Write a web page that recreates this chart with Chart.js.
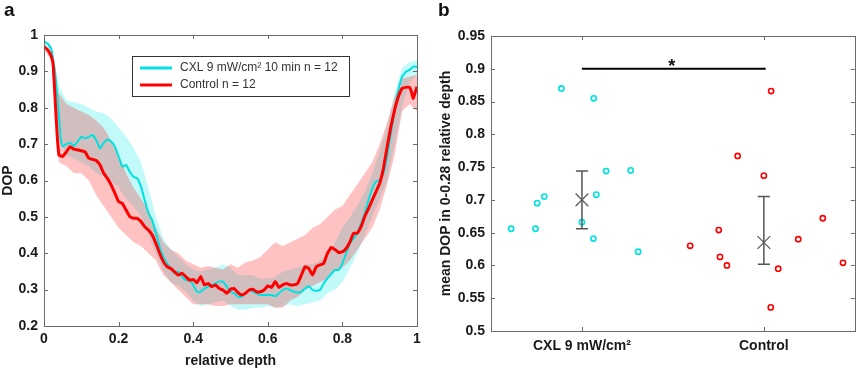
<!DOCTYPE html>
<html>
<head>
<meta charset="utf-8">
<script src="https://cdn.jsdelivr.net/npm/chart.js@4.4.1/dist/chart.umd.min.js"></script>
<style>
body { margin: 0; background: #fff; }
#wrap { position: relative; width: 865px; height: 371px; }
.panel { position: absolute; top: 0; height: 371px; }
.tag { position: absolute; top: -1px; font: bold 19px 'Liberation Sans', Arial, sans-serif; color: #111; }
</style>
</head>
<body>
<div id="wrap">
    <div class="panel" style="left:0;width:430px"><canvas id="GraficoDop" width="430" height="371"></canvas></div>
    <div class="panel" style="left:430px;width:435px"><canvas id="GraficoMedia" width="435" height="371"></canvas></div>
    <div class="tag" style="left:4px">a</div>
    <div class="tag" style="left:438px">b</div>
</div>
<script>
// painel a - DOP ao longo da profundidade
var cxlDepth = [0, 0.01, 0.02, 0.03, 0.04, 0.045, 0.05, 0.06, 0.07, 0.08, 0.09, 0.10, 0.11, 0.12, 0.13, 0.14, 0.15, 0.16, 0.17, 0.18, 0.19,
    0.20, 0.21, 0.22, 0.23, 0.24, 0.25, 0.26, 0.27, 0.28, 0.29, 0.30, 0.31, 0.32, 0.33, 0.34, 0.35, 0.36, 0.37, 0.38, 0.39,
    0.40, 0.41, 0.42, 0.43, 0.44, 0.45, 0.46, 0.47, 0.48, 0.49, 0.50, 0.51, 0.52, 0.53, 0.54, 0.55, 0.56, 0.57, 0.58, 0.59,
    0.60, 0.61, 0.62, 0.63, 0.64, 0.65, 0.66, 0.67, 0.68, 0.69, 0.70, 0.71, 0.72, 0.73, 0.74, 0.75, 0.76, 0.77, 0.78, 0.79,
    0.80, 0.81, 0.82, 0.83, 0.84, 0.85, 0.86, 0.87, 0.88, 0.89, 0.90, 0.91, 0.92, 0.93, 0.94, 0.95, 0.96, 0.97, 0.98, 0.99, 1.00];
var cxlMean = [0.982, 0.977, 0.960, 0.895, 0.780, 0.710, 0.693, 0.700, 0.704, 0.695, 0.707, 0.720, 0.716, 0.720, 0.725, 0.711, 0.688, 0.704, 0.713, 0.707, 0.693,
    0.666, 0.638, 0.643, 0.624, 0.610, 0.606, 0.583, 0.546, 0.510, 0.491, 0.455, 0.418, 0.390, 0.372, 0.358, 0.345, 0.350, 0.336, 0.326, 0.326,
    0.313, 0.294, 0.294, 0.303, 0.308, 0.313, 0.317, 0.322, 0.322, 0.308, 0.294, 0.290, 0.280, 0.280, 0.290, 0.299, 0.294, 0.290, 0.285, 0.285,
    0.285, 0.285, 0.282, 0.290, 0.299, 0.303, 0.299, 0.294, 0.292, 0.294, 0.303, 0.310, 0.299, 0.297, 0.299, 0.317, 0.331, 0.343, 0.354, 0.354,
    0.372, 0.400, 0.427, 0.441, 0.455, 0.482, 0.510, 0.546, 0.578, 0.597, 0.601, 0.620, 0.666, 0.730, 0.794, 0.849, 0.885, 0.899, 0.904, 0.913, 0.913];

var ctrlDepth = [0, 0.01, 0.02, 0.025, 0.03, 0.035, 0.04, 0.05, 0.06, 0.07, 0.08, 0.09, 0.10, 0.11, 0.12, 0.13, 0.14, 0.15, 0.16, 0.17, 0.18, 0.19,
    0.20, 0.21, 0.22, 0.23, 0.24, 0.25, 0.26, 0.27, 0.28, 0.29, 0.30, 0.31, 0.32, 0.33, 0.34, 0.35, 0.36, 0.37, 0.38, 0.39,
    0.40, 0.41, 0.42, 0.43, 0.44, 0.45, 0.46, 0.47, 0.48, 0.49, 0.50, 0.51, 0.52, 0.53, 0.54, 0.55, 0.56, 0.57, 0.58, 0.59,
    0.60, 0.61, 0.62, 0.63, 0.64, 0.65, 0.66, 0.67, 0.68, 0.69, 0.70, 0.71, 0.72, 0.73, 0.74, 0.75, 0.76, 0.77, 0.78, 0.79,
    0.80, 0.81, 0.82, 0.83, 0.84, 0.85, 0.86, 0.87, 0.88, 0.89, 0.90, 0.91, 0.92, 0.93, 0.94, 0.95, 0.96, 0.97, 0.98, 0.985, 0.99, 1.00];
var ctrlMean = [0.968, 0.959, 0.940, 0.913, 0.820, 0.730, 0.670, 0.666, 0.679, 0.693, 0.686, 0.684, 0.682, 0.679, 0.661, 0.658, 0.655, 0.643, 0.620, 0.606, 0.588, 0.565,
    0.542, 0.537, 0.519, 0.501, 0.496, 0.496, 0.487, 0.473, 0.464, 0.450, 0.427, 0.400, 0.377, 0.363, 0.358, 0.349, 0.340, 0.345, 0.336, 0.326,
    0.328, 0.319, 0.336, 0.313, 0.317, 0.308, 0.313, 0.303, 0.299, 0.290, 0.301, 0.303, 0.292, 0.285, 0.290, 0.299, 0.301, 0.294, 0.294, 0.299,
    0.310, 0.306, 0.322, 0.306, 0.313, 0.317, 0.313, 0.313, 0.317, 0.340, 0.363, 0.358, 0.340, 0.363, 0.368, 0.372, 0.400, 0.416, 0.410, 0.402,
    0.404, 0.413, 0.431, 0.455, 0.455, 0.473, 0.501, 0.523, 0.546, 0.569, 0.592, 0.633, 0.693, 0.748, 0.794, 0.830, 0.853, 0.856, 0.856, 0.844, 0.826, 0.858];

// faixas (desvio) em passos de 0.02
var bandDepth = [0, 0.02, 0.04, 0.06, 0.08, 0.10, 0.12, 0.14, 0.16, 0.18, 0.20, 0.22, 0.24, 0.26, 0.28, 0.30, 0.32, 0.34, 0.36, 0.38, 0.40,
    0.42, 0.44, 0.46, 0.48, 0.50, 0.52, 0.54, 0.56, 0.58, 0.60, 0.62, 0.64, 0.66, 0.68, 0.70, 0.72, 0.74, 0.76, 0.78, 0.80,
    0.82, 0.84, 0.86, 0.88, 0.90, 0.92, 0.94, 0.96, 0.98, 1.00];
var cxlUpper = [0.990, 0.970, 0.860, 0.820, 0.815, 0.810, 0.800, 0.790, 0.785, 0.770, 0.745, 0.720, 0.690, 0.650, 0.580, 0.500, 0.440, 0.410, 0.390, 0.370, 0.355,
    0.350, 0.355, 0.360, 0.370, 0.360, 0.340, 0.340, 0.340, 0.330, 0.330, 0.335, 0.350, 0.355, 0.360, 0.370, 0.370, 0.380, 0.400, 0.430, 0.470,
    0.500, 0.530, 0.570, 0.620, 0.680, 0.750, 0.840, 0.910, 0.925, 0.930];
var cxlLower = [0.975, 0.950, 0.720, 0.670, 0.660, 0.650, 0.640, 0.620, 0.610, 0.600, 0.580, 0.550, 0.530, 0.500, 0.450, 0.400, 0.350, 0.320, 0.310, 0.295, 0.270,
    0.255, 0.260, 0.265, 0.270, 0.255, 0.245, 0.245, 0.250, 0.250, 0.255, 0.250, 0.255, 0.260, 0.255, 0.260, 0.265, 0.270, 0.290, 0.300, 0.320,
    0.360, 0.400, 0.450, 0.500, 0.550, 0.600, 0.700, 0.800, 0.870, 0.890];
var ctrlUpper = [0.975, 0.950, 0.840, 0.810, 0.800, 0.790, 0.780, 0.765, 0.745, 0.710, 0.670, 0.620, 0.580, 0.550, 0.520, 0.470, 0.430, 0.410, 0.400, 0.380, 0.370,
    0.360, 0.365, 0.360, 0.355, 0.370, 0.360, 0.375, 0.380, 0.390, 0.410, 0.430, 0.420, 0.430, 0.440, 0.450, 0.470, 0.480, 0.500, 0.520, 0.530,
    0.560, 0.590, 0.620, 0.650, 0.700, 0.760, 0.830, 0.880, 0.885, 0.890];
var ctrlLower = [0.960, 0.930, 0.650, 0.640, 0.620, 0.620, 0.600, 0.560, 0.530, 0.500, 0.470, 0.450, 0.430, 0.420, 0.400, 0.380, 0.340, 0.320, 0.300, 0.280, 0.260,
    0.260, 0.260, 0.255, 0.255, 0.260, 0.260, 0.260, 0.260, 0.260, 0.260, 0.250, 0.250, 0.270, 0.280, 0.300, 0.310, 0.320, 0.330, 0.350, 0.360,
    0.380, 0.410, 0.440, 0.470, 0.520, 0.590, 0.670, 0.790, 0.810, 0.790];

// painel b - media de DOP em 0-0.28
var grupos = ['CXL 9 mW/cm\u00b2', 'Control'];
var cxlX = [0.611, 0.745, 0.754, 0.793, 0.887, 1.065, 1.000, 1.063, 1.079, 1.133, 1.268, 1.309];
var cxlY = [0.656, 0.656, 0.695, 0.705, 0.870, 0.855, 0.666, 0.641, 0.708, 0.744, 0.745, 0.621];
var ctrlX = [1.595, 1.752, 1.759, 1.797, 1.856, 2.000, 2.040, 2.079, 2.038, 2.189, 2.324, 2.435];
var ctrlY = [0.630, 0.654, 0.613, 0.600, 0.767, 0.737, 0.866, 0.595, 0.536, 0.640, 0.672, 0.604];
var mediaGrupo = [0.700, 0.635];
var erroInf = [0.656, 0.602];
var erroSup = [0.744, 0.705];
var sigLinha = [1.0, 2.01, 0.9];

var corCxl = 'rgb(0,225,225)';
var corCtrl = 'rgb(255,0,0)';
var corTexto = '#1a1a1a';
var fonteEixo = { family: "'Liberation Sans', Arial, sans-serif", size: 14, weight: 'bold' };

function pontos(xs, ys) {
    var lista = [];
    for (var i = 0; i < xs.length; i++) lista.push({ x: xs[i], y: ys[i] });
    return lista;
}

function fmt(v) {
    return String(Number(v.toFixed(2)));
}

var caixaPlugin = {
    id: 'caixa',
    afterDraw: function (chart) {
        var ctx = chart.ctx, a = chart.chartArea, sx = chart.scales.x, sy = chart.scales.y;
        ctx.save();
        ctx.strokeStyle = '#6a6a6a';
        ctx.lineWidth = 1;
        ctx.strokeRect(Math.round(a.left) + 0.5, Math.round(a.top) + 0.5, Math.round(a.right - a.left), Math.round(a.bottom - a.top));
        ctx.beginPath();
        sx.ticks.forEach(function (t) {
            var px = Math.round(sx.getPixelForValue(t.value)) + 0.5;
            ctx.moveTo(px, a.bottom); ctx.lineTo(px, a.bottom - 4);
            ctx.moveTo(px, a.top); ctx.lineTo(px, a.top + 4);
        });
        sy.ticks.forEach(function (t) {
            var py = Math.round(sy.getPixelForValue(t.value)) + 0.5;
            ctx.moveTo(a.left, py); ctx.lineTo(a.left + 4, py);
            ctx.moveTo(a.right, py); ctx.lineTo(a.right - 4, py);
        });
        ctx.stroke();
        ctx.restore();
    }
};

var legendaPlugin = {
    id: 'legenda',
    afterDraw: function (chart) {
        var ctx = chart.ctx, a = chart.chartArea;
        var x0 = a.left + 88, y0 = a.top + 21, w = 217, h = 40;
        ctx.save();
        ctx.fillStyle = '#fff';
        ctx.fillRect(x0, y0, w, h);
        ctx.strokeStyle = '#333';
        ctx.lineWidth = 1;
        ctx.strokeRect(x0 + 0.5, y0 + 0.5, w, h);
        var itens = chart.data.datasets.filter(function (d) { return d.legenda; });
        itens.sort(function (p, q) { return p.legenda - q.legenda; });
        itens.forEach(function (d, i) {
            var yy = y0 + 12 + i * 17;
            ctx.strokeStyle = d.borderColor;
            ctx.lineWidth = 3;
            ctx.beginPath();
            ctx.moveTo(x0 + 8, yy); ctx.lineTo(x0 + 40, yy);
            ctx.stroke();
            ctx.fillStyle = '#333';
            ctx.font = "12px 'Liberation Sans', Arial, sans-serif";
            ctx.textBaseline = 'middle';
            ctx.fillText(d.label, x0 + 48, yy);
        });
        ctx.restore();
    }
};

new Chart(document.getElementById('GraficoDop'), {
    type: 'line',
    data: {
        datasets: [{
            label: 'Control n = 12',
            legenda: 2,
            data: pontos(ctrlDepth, ctrlMean),
            borderColor: corCtrl,
            borderWidth: 3,
            pointRadius: 0,
            fill: false,
            tension: 0.1
        }, {
            label: 'CXL 9 mW/cm\u00b2 10 min n = 12',
            legenda: 1,
            data: pontos(cxlDepth, cxlMean),
            borderColor: corCxl,
            borderWidth: 2,
            pointRadius: 0,
            fill: false,
            tension: 0.1
        }, {
            label: 'ctrlUpper',
            data: pontos(bandDepth, ctrlUpper),
            borderWidth: 0,
            borderColor: 'rgba(0,0,0,0)',
            pointRadius: 0,
            backgroundColor: 'rgba(255,0,0,0.24)',
            fill: '+1'
        }, {
            label: 'ctrlLower',
            data: pontos(bandDepth, ctrlLower),
            borderWidth: 0,
            borderColor: 'rgba(0,0,0,0)',
            pointRadius: 0,
            fill: false
        }, {
            label: 'cxlUpper',
            data: pontos(bandDepth, cxlUpper),
            borderWidth: 0,
            borderColor: 'rgba(0,0,0,0)',
            pointRadius: 0,
            backgroundColor: 'rgba(0,235,235,0.24)',
            fill: '+1'
        }, {
            label: 'cxlLower',
            data: pontos(bandDepth, cxlLower),
            borderWidth: 0,
            borderColor: 'rgba(0,0,0,0)',
            pointRadius: 0,
            fill: false
        }]
    },
    options: {
        responsive: false,
        animation: false,
        layout: { padding: { top: 35, right: 13, left: 0, bottom: 0 } },
        plugins: {
            legend: { display: false },
            tooltip: { enabled: false },
            filler: { drawTime: 'beforeDatasetsDraw' }
        },
        scales: {
            x: {
                type: 'linear', min: 0, max: 1,
                grid: { display: false, drawTicks: false },
                border: { display: false },
                ticks: { stepSize: 0.2, padding: 5, color: corTexto, font: fonteEixo, callback: fmt, maxRotation: 0 },
                title: { display: true, text: 'relative depth', color: corTexto, font: fonteEixo, padding: { top: 0, bottom: 1 } },
                afterFit: function (s) { s.height = 45; }
            },
            y: {
                type: 'linear', min: 0.2, max: 1,
                grid: { display: false, drawTicks: false },
                border: { display: false },
                ticks: { stepSize: 0.1, padding: 6, color: corTexto, font: fonteEixo, callback: fmt },
                title: { display: true, text: 'DOP', color: corTexto, font: fonteEixo, padding: 0 },
                afterFit: function (s) { s.width = 44; }
            }
        }
    },
    plugins: [caixaPlugin, legendaPlugin]
});

var errosPlugin = {
    id: 'erros',
    afterDatasetsDraw: function (chart) {
        var ctx = chart.ctx, sx = chart.scales.x, sy = chart.scales.y;
        ctx.save();
        ctx.strokeStyle = '#555';
        ctx.lineWidth = 1.5;
        for (var i = 0; i < mediaGrupo.length; i++) {
            var px = sx.getPixelForValue(i + 1);
            var cap = sx.getPixelForValue(i + 1.033) - px;
            var yi = sy.getPixelForValue(erroInf[i]);
            var ys = sy.getPixelForValue(erroSup[i]);
            ctx.beginPath();
            ctx.moveTo(px, yi); ctx.lineTo(px, ys);
            ctx.moveTo(px - cap, yi); ctx.lineTo(px + cap, yi);
            ctx.moveTo(px - cap, ys); ctx.lineTo(px + cap, ys);
            ctx.stroke();
        }
        // barra de significancia
        var x1 = sx.getPixelForValue(sigLinha[0]);
        var x2 = sx.getPixelForValue(sigLinha[1]);
        var yl = sy.getPixelForValue(sigLinha[2]);
        ctx.strokeStyle = '#000';
        ctx.lineWidth = 2;
        ctx.beginPath();
        ctx.moveTo(x1, yl); ctx.lineTo(x2, yl);
        ctx.stroke();
        ctx.fillStyle = '#111';
        ctx.font = "bold 18px 'Liberation Sans', Arial, sans-serif";
        ctx.textAlign = 'center';
        ctx.textBaseline = 'middle';
        ctx.fillText('*', (x1 + x2) / 2 - 2, yl - 2);
        ctx.restore();
    }
};

new Chart(document.getElementById('GraficoMedia'), {
    type: 'scatter',
    data: {
        datasets: [{
            label: 'media',
            data: pontos([1, 2], mediaGrupo),
            pointStyle: 'crossRot',
            pointRadius: 9,
            borderColor: '#555',
            borderWidth: 1.2
        }, {
            label: grupos[0],
            data: pontos(cxlX, cxlY),
            pointStyle: 'circle',
            pointRadius: 2.6,
            borderWidth: 1.6,
            borderColor: corCxl,
            backgroundColor: 'rgba(0,0,0,0)'
        }, {
            label: grupos[1],
            data: pontos(ctrlX, ctrlY),
            pointStyle: 'circle',
            pointRadius: 2.6,
            borderWidth: 1.6,
            borderColor: corCtrl,
            backgroundColor: 'rgba(0,0,0,0)'
        }]
    },
    options: {
        responsive: false,
        animation: false,
        layout: { padding: { top: 36, right: 1, left: 0, bottom: 0 } },
        plugins: { legend: { display: false }, tooltip: { enabled: false } },
        scales: {
            x: {
                type: 'linear', min: 0.5, max: 2.5,
                grid: { display: false, drawTicks: false },
                border: { display: false },
                afterBuildTicks: function (s) { s.ticks = [{ value: 1 }, { value: 2 }]; },
                ticks: { padding: 7, color: corTexto, font: fonteEixo, maxRotation: 0, callback: function (v) { return grupos[v - 1]; } },
                afterFit: function (s) { s.height = 40; }
            },
            y: {
                type: 'linear', min: 0.5, max: 0.95,
                grid: { display: false, drawTicks: false },
                border: { display: false },
                ticks: { stepSize: 0.05, padding: 6, color: corTexto, font: fonteEixo, callback: fmt },
                title: { display: true, text: 'mean DOP in 0-0.28 relative depth', color: corTexto, font: fonteEixo, padding: { top: 8, bottom: 0 } },
                afterFit: function (s) { s.width = 61; }
            }
        }
    },
    plugins: [caixaPlugin, errosPlugin]
});
</script>
</body>
</html>
